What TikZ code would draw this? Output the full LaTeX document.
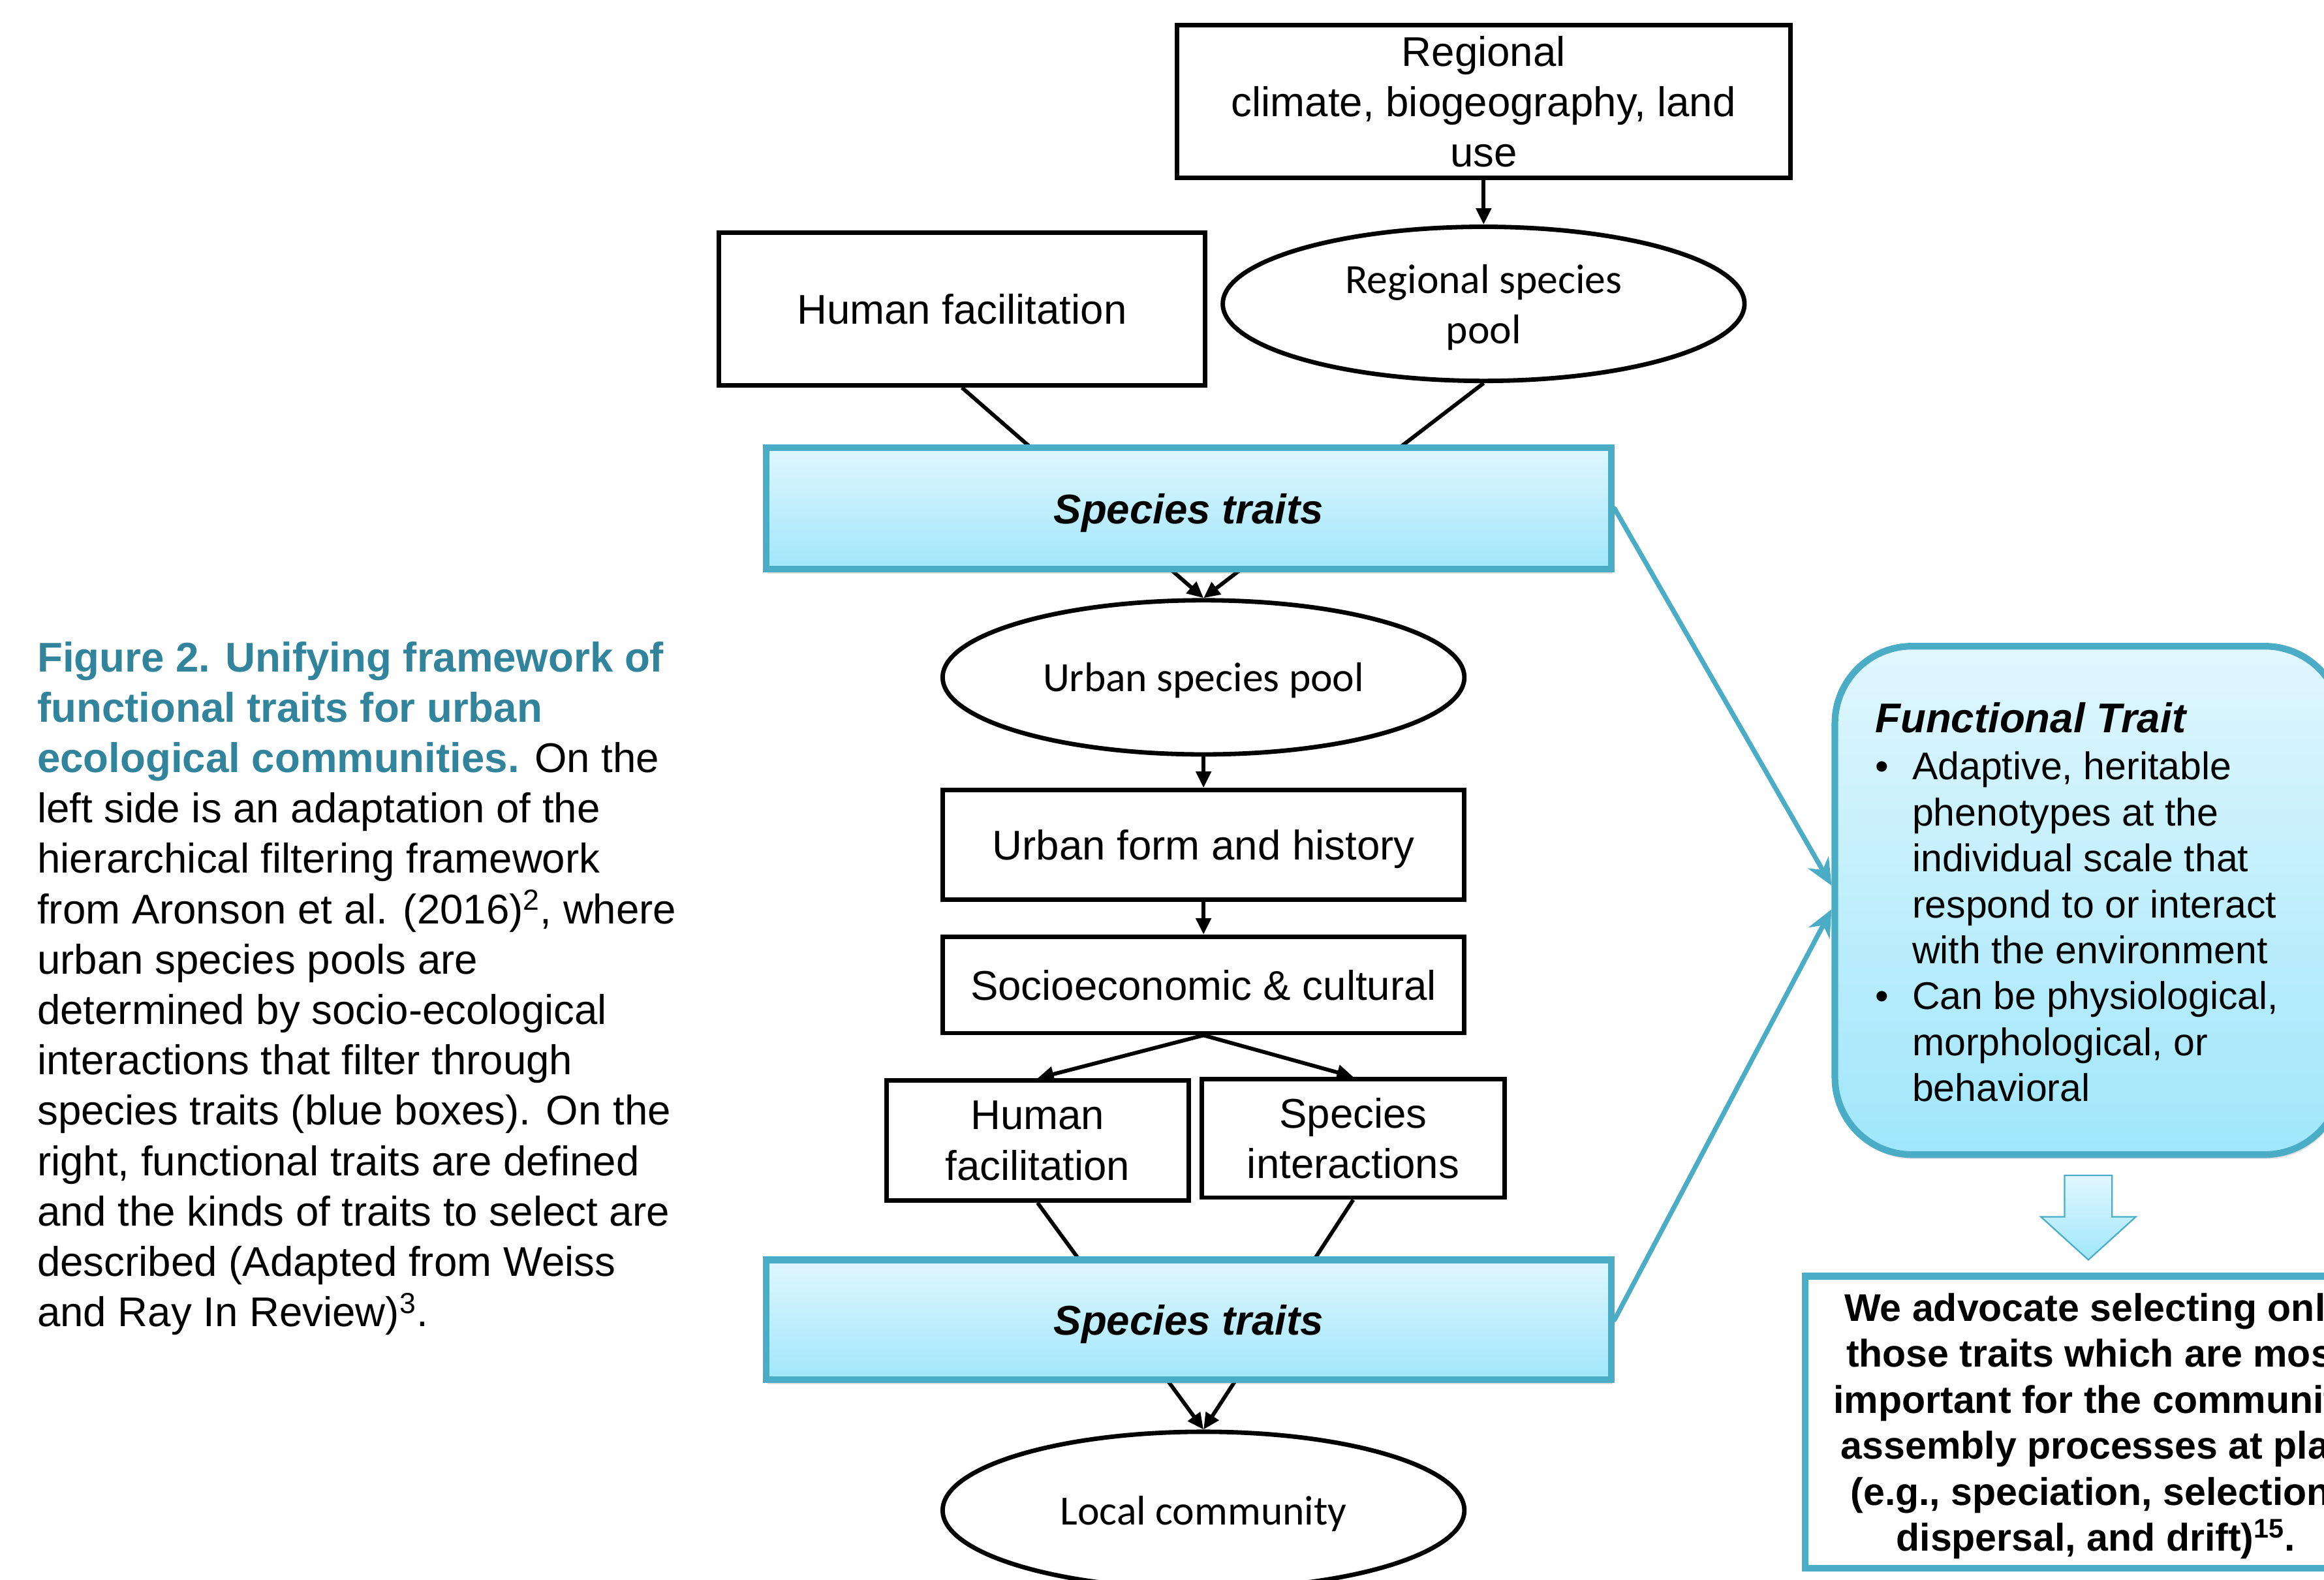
\documentclass[tikz,border=0pt]{standalone}
\usepackage{fontspec}
\setmainfont{Liberation Sans}
\newfontfamily\calibrifont{Carlito}
\usetikzlibrary{arrows.meta,shapes.geometric,shadows,backgrounds}
\definecolor{fwblue}{HTML}{4BACC6}
\definecolor{fwtop}{HTML}{E0F7FD}
\definecolor{fwbottom}{HTML}{A0E6FB}
\definecolor{fwteal}{HTML}{31849B}
\newcommand{\fwbig}{\fontsize{28}{34}\selectfont}
\newcommand{\fwsmall}{\fontsize{26}{31}\selectfont}

\begin{document}
\begin{tikzpicture}[x=1pt, y=-1pt, line cap=round,
  filterbox/.style={draw, line width=3pt, align=center, font=\fwbig, inner sep=0pt, text depth=0pt},
  poolnode/.style={ellipse, draw, line width=3pt, align=center, font=\calibrifont\fwbig,
    minimum width=352pt, minimum height=104pt, inner sep=0pt, text depth=0pt},
  traitbox/.style={draw=fwblue, line width=4.5pt, top color=fwtop, bottom color=fwbottom,
    minimum width=570pt, font=\fwbig\bfseries\itshape, text depth=0pt,
    drop shadow={opacity=0.25, shadow xshift=1pt, shadow yshift=-3pt}},
  flow/.style={line width=2.6pt, -{Triangle[length=11pt, width=10pt]}},
  tolink/.style={draw=fwblue, line width=3.2pt, -{Stealth[length=18pt, width=16pt]}}]
  \useasboundingbox (0,0) rectangle (1568,1066);
  \clip (0,0) rectangle (1568,1066);

  % caption
  \node[anchor=north west, align=left, font=\fwbig, inner sep=0pt] (caption) at (25,432.6) {%
    {\color{fwteal}\bfseries Figure 2. Unifying framework of}\\
    {\color{fwteal}\bfseries functional traits for urban}\\
    {\color{fwteal}\bfseries ecological communities.} On the\\
    left side is an adaptation of the\\
    hierarchical filtering framework\\
    from Aronson et al. (2016)\textsuperscript{2}, where\\
    urban species pools are\\
    determined by socio-ecological\\
    interactions that filter through\\
    species traits (blue boxes). On the\\
    right, functional traits are defined\\
    and the kinds of traits to select are\\
    described (Adapted from Weiss\\
    and Ray In Review)\textsuperscript{3}.};

  % filtering chain
  \node[filterbox, minimum width=414pt, minimum height=103pt] (regclim) at (1001,68.5)
    {Regional\\climate, biogeography, land\\use};
  \node[poolnode] (regpool) at (1001,205) {Regional species\\pool};
  \node[filterbox, minimum width=328pt, minimum height=103pt] (humfac) at (649,208.5) {Human facilitation};
  \node[traitbox, minimum height=82pt] (traits) at (802,343) {Species traits};
  \node[poolnode] (urbpool) at (812,457) {Urban species pool};
  \node[filterbox, minimum width=352pt, minimum height=74pt] (urbform) at (812,570) {Urban form and history};
  \node[filterbox, minimum width=352pt, minimum height=65pt] (socio) at (812,664.5) {Socioeconomic \& cultural};
  \node[filterbox, minimum width=204pt, minimum height=81pt] (humfacb) at (700,769.5) {Human\\facilitation};
  \node[filterbox, minimum width=204pt, minimum height=80pt] (spint) at (913,768) {Species\\interactions};
  \node[traitbox, minimum height=81pt] (traitsb) at (802,890.5) {Species traits};
  \node[poolnode, minimum height=106pt] (localcom) at (812,1019) {Local community};

  % functional trait side
  \node[draw=fwblue, line width=4.5pt, rounded corners=52pt, top color=fwtop, bottom color=fwbottom,
    minimum width=342pt, minimum height=343pt,
    drop shadow={opacity=0.25, shadow xshift=1pt, shadow yshift=-3pt}] (ftrait) at (1409,607.5) {};
  \node[anchor=north west, align=left, font=\fwsmall, inner sep=0pt] (ftext) at (1265,473.6) {%
    {\fwbig\bfseries\itshape Functional Trait}\\[1pt]
    \makebox[25pt][l]{\textbullet}Adaptive, heritable\\
    \hspace*{25pt}phenotypes at the\\
    \hspace*{25pt}individual scale that\\
    \hspace*{25pt}respond to or interact\\
    \hspace*{25pt}with the environment\\
    \makebox[25pt][l]{\textbullet}Can be physiological,\\
    \hspace*{25pt}morphological, or\\
    \hspace*{25pt}behavioral};
  \draw[fwblue, line width=1pt, top color=fwtop, bottom color=fwbottom]
    (1393,793) -- (1425,793) -- (1425,821) -- (1441,821) -- (1409,850)
    -- (1377,821) -- (1393,821) -- cycle;
  \node[draw=fwblue, line width=4.5pt, fill=white, minimum width=392pt, minimum height=197pt,
    align=center, font=\fwsmall\bfseries, text depth=0pt] (advocate) at (1414,959.5) {%
    We advocate selecting only\\
    those traits which are most\\
    important for the community\\
    assembly processes at play\\
    (e.g., speciation, selection,\\
    dispersal, and drift)\textsuperscript{15}.};

  % connectors
  \draw[flow] (regclim) -- (regpool);
  \draw[flow] (urbpool) -- (urbform);
  \draw[flow] (urbform) -- (socio);
  \draw[flow] (socio.south) -- (humfacb.north);
  \draw[flow] (socio.south) -- (spint.north);
  \begin{scope}[on background layer]
    \draw[flow] (humfac.south) -- (urbpool.north);
    \draw[flow] (regpool.south) -- (urbpool.north);
    \draw[flow] (humfacb.south) -- (localcom.north);
    \draw[flow] (spint.south) -- (localcom.north);
  \end{scope}
  \draw[tolink] (traits.east) -- ([yshift=10pt]ftrait.west);
  \draw[tolink] (traitsb.east) -- ([yshift=-6pt]ftrait.west);
\end{tikzpicture}
\end{document}
